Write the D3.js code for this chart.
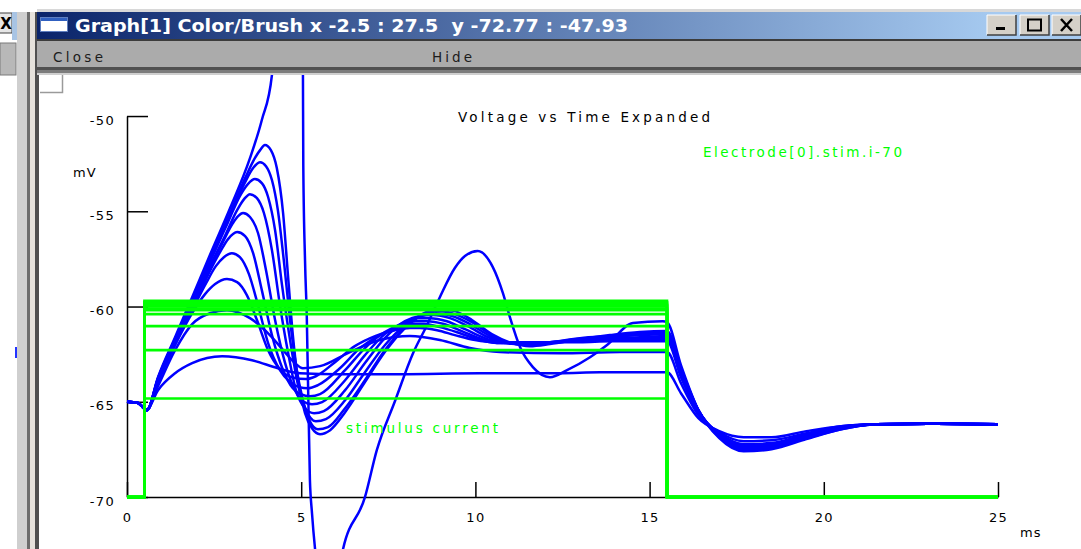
<!DOCTYPE html>
<html><head><meta charset="utf-8">
<script src="https://cdn.jsdelivr.net/npm/d3@7"></script>
<style>
html,body{margin:0;padding:0;background:#fff;overflow:hidden}
svg{display:block}
text{font-family:"DejaVu Sans",sans-serif}
</style></head><body>
<svg id="chart" width="1081" height="549"></svg>
<script>
// Membrane potential sweeps, [time (ms), voltage (mV)], one per stimulus amplitude.
const sweepSpike = [[0,-65],[0.3,-65.05],[0.57,-65.44],[0.89,-63.71],[1.38,-61.61],[1.87,-59.51],[2.38,-57.3],[2.96,-54.83],[3.53,-52.21],[3.87,-50.21],[4.16,-47.85],[4.4,-35],[4.6,0],[4.75,20],[4.9,-5],[5.03,-40],[5.05,-47.7],[5.06,-52.6],[5.11,-57.6],[5.16,-60.5],[5.25,-69.1],[5.31,-70.85],[5.4,-72.77],[5.7,-75.5],[6.0,-74.6],[6.2,-72.74],[6.83,-70.01],[7.17,-67.54],[7.69,-64.97],[8.21,-62.45],[8.61,-60.98],[8.98,-59.51],[9.41,-57.98],[9.7,-57.35],[10.07,-57.09],[10.5,-57.93],[10.79,-59.3],[10.99,-60.56],[11.28,-62.13],[11.65,-63.18],[12.14,-63.71],[12.63,-63.34],[13.29,-62.66],[13.77,-62.03],[14.52,-60.87],[15.38,-60.77],[15.5,-60.82],[15.9,-63.08],[16.4,-65.44],[17.0,-66.91],[17.7,-67.6],[18.5,-67.49],[19.5,-66.96],[20.5,-66.44],[21.5,-66.18],[23,-66.15],[25,-66.18]];
const sweep1 = [[0,-65],[0.3,-65.05],[0.57,-65.44],[0.89,-63.76],[1.38,-61.71],[1.87,-59.66],[2.38,-57.51],[2.96,-55.09],[3.39,-53.26],[3.67,-52.21],[3.82,-51.79],[3.96,-51.52],[4.13,-51.79],[4.3,-52.73],[4.48,-55.09],[4.62,-58.35],[4.76,-61.5],[4.91,-63.87],[5.11,-65.6],[5.31,-66.39],[5.54,-66.7],[5.83,-66.49],[6.26,-65.55],[6.83,-63.97],[7.4,-62.39],[7.98,-61.13],[8.47,-60.4],[8.98,-60.14],[9.41,-60.24],[9.9,-60.71],[10.47,-61.45],[11.05,-61.92],[11.56,-62.08],[12.14,-61.97],[13.0,-61.71],[13.86,-61.5],[14.72,-61.34],[15.5,-61.29],[15.9,-63.24],[16.4,-65.44],[17.0,-66.86],[17.7,-67.54],[18.5,-67.44],[19.5,-66.91],[20.5,-66.44],[21.5,-66.18],[23,-66.15],[25,-66.18]];
const sweep2 = [[0,-65],[0.3,-65.05],[0.57,-65.44],[0.89,-63.76],[1.38,-61.71],[1.87,-59.66],[2.38,-57.56],[2.96,-55.2],[3.39,-53.47],[3.62,-52.73],[3.82,-52.42],[3.99,-52.63],[4.16,-53.36],[4.33,-54.94],[4.5,-57.56],[4.68,-60.71],[4.85,-63.08],[5.05,-64.92],[5.25,-66.02],[5.48,-66.44],[5.77,-66.33],[6.26,-65.34],[6.83,-63.87],[7.4,-62.29],[7.98,-61.08],[8.47,-60.45],[8.92,-60.24],[9.41,-60.4],[9.9,-60.82],[10.47,-61.5],[10.99,-61.92],[11.51,-62.03],[12.14,-61.92],[13.0,-61.71],[13.86,-61.55],[14.72,-61.4],[15.5,-61.34],[15.9,-63.29],[16.4,-65.44],[17.0,-66.81],[17.7,-67.49],[18.5,-67.38],[19.5,-66.91],[20.5,-66.39],[21.5,-66.18],[23,-66.15],[25,-66.18]];
const sweep3 = [[0,-65],[0.3,-65.05],[0.57,-65.44],[0.89,-63.81],[1.38,-61.76],[1.87,-59.77],[2.38,-57.67],[2.9,-55.57],[3.24,-54.2],[3.47,-53.57],[3.67,-53.31],[3.87,-53.52],[4.05,-54.25],[4.25,-55.99],[4.45,-58.88],[4.68,-61.76],[4.91,-64.13],[5.14,-65.44],[5.42,-66.02],[5.71,-65.91],[6.26,-64.92],[6.83,-63.45],[7.4,-62.03],[7.98,-60.98],[8.41,-60.5],[8.87,-60.35],[9.33,-60.5],[9.84,-60.92],[10.42,-61.55],[10.93,-61.92],[11.42,-61.97],[12.14,-61.87],[13.0,-61.66],[13.86,-61.55],[14.72,-61.45],[15.5,-61.4],[15.9,-63.34],[16.4,-65.44],[17.0,-66.81],[17.7,-67.49],[18.5,-67.38],[19.5,-66.86],[20.5,-66.39],[21.5,-66.18],[23,-66.15],[25,-66.18]];
const sweep4 = [[0,-65],[0.3,-65.05],[0.57,-65.44],[0.89,-63.81],[1.38,-61.82],[1.87,-59.87],[2.38,-57.88],[2.81,-56.3],[3.16,-54.94],[3.36,-54.36],[3.53,-54.1],[3.73,-54.31],[3.93,-55.09],[4.16,-57.04],[4.39,-59.93],[4.62,-62.39],[4.85,-64.39],[5.11,-65.34],[5.37,-65.6],[5.65,-65.49],[6.26,-64.39],[6.83,-62.97],[7.4,-61.66],[7.98,-60.77],[8.41,-60.5],[8.78,-60.45],[9.27,-60.61],[9.78,-61.03],[10.36,-61.61],[10.85,-61.92],[11.33,-61.97],[12.14,-61.87],[13.0,-61.71],[13.86,-61.61],[14.72,-61.5],[15.5,-61.45],[15.9,-63.39],[16.4,-65.49],[17.0,-66.75],[17.7,-67.44],[18.5,-67.33],[19.5,-66.86],[20.5,-66.39],[21.5,-66.18],[23,-66.15],[25,-66.18]];
const sweep5 = [[0,-65],[0.3,-65.05],[0.57,-65.44],[0.89,-63.87],[1.38,-61.87],[1.87,-59.98],[2.38,-57.98],[2.75,-56.62],[3.04,-55.62],[3.19,-55.25],[3.33,-55.09],[3.53,-55.3],[3.76,-56.14],[3.99,-58.09],[4.25,-60.71],[4.53,-62.92],[4.82,-64.39],[5.05,-64.97],[5.31,-65.13],[5.6,-65.02],[6.26,-63.87],[6.83,-62.55],[7.4,-61.45],[7.98,-60.82],[8.35,-60.61],[8.69,-60.61],[9.18,-60.77],[9.7,-61.19],[10.27,-61.66],[10.79,-61.92],[11.28,-61.92],[12.14,-61.87],[13.0,-61.76],[13.86,-61.66],[14.72,-61.61],[15.5,-61.55],[15.9,-63.45],[16.4,-65.49],[17.0,-66.75],[17.7,-67.38],[18.5,-67.28],[19.5,-66.81],[20.5,-66.39],[21.5,-66.18],[23,-66.15],[25,-66.18]];
const sweep6 = [[0,-65],[0.3,-65.05],[0.57,-65.44],[0.89,-63.87],[1.38,-61.92],[1.87,-60.08],[2.32,-58.35],[2.67,-57.14],[2.9,-56.46],[3.16,-56.09],[3.39,-56.3],[3.62,-57.2],[3.87,-59.14],[4.16,-61.5],[4.48,-63.34],[4.76,-64.29],[4.99,-64.6],[5.25,-64.71],[5.54,-64.6],[6.26,-63.34],[6.83,-62.18],[7.4,-61.34],[7.98,-60.87],[8.29,-60.77],[8.61,-60.77],[9.1,-60.92],[9.61,-61.29],[10.19,-61.71],[10.7,-61.92],[11.19,-61.92],[12.14,-61.87],[13.0,-61.82],[13.86,-61.71],[14.72,-61.66],[15.5,-61.61],[15.9,-63.5],[16.4,-65.49],[17.0,-66.7],[17.7,-67.33],[18.5,-67.28],[19.5,-66.81],[20.5,-66.33],[21.5,-66.18],[23,-66.15],[25,-66.18]];
const sweep7 = [[0,-65],[0.3,-65.05],[0.57,-65.44],[0.89,-63.92],[1.38,-61.97],[1.87,-60.19],[2.27,-58.77],[2.55,-57.88],[2.78,-57.41],[3.01,-57.2],[3.24,-57.41],[3.5,-58.3],[3.76,-59.93],[4.05,-61.92],[4.39,-63.34],[4.68,-63.97],[4.94,-64.23],[5.19,-64.29],[5.48,-64.13],[6.11,-63.24],[6.69,-62.18],[7.26,-61.5],[7.83,-61.08],[8.21,-60.92],[8.52,-60.92],[8.98,-61.08],[9.56,-61.4],[10.13,-61.76],[10.62,-61.92],[11.1,-61.87],[12.14,-61.87],[13.0,-61.82],[13.86,-61.76],[14.72,-61.71],[15.5,-61.71],[15.9,-63.6],[16.4,-65.55],[17.0,-66.7],[17.7,-67.28],[18.5,-67.23],[19.5,-66.75],[20.5,-66.33],[21.5,-66.18],[23,-66.15],[25,-66.18]];
const sweep8 = [[0,-65],[0.3,-65.05],[0.57,-65.44],[0.89,-63.97],[1.38,-62.03],[1.87,-60.35],[2.24,-59.35],[2.53,-58.82],[2.87,-58.56],[3.16,-58.72],[3.44,-59.4],[3.73,-60.71],[4.05,-62.29],[4.39,-63.29],[4.73,-63.71],[5.14,-63.81],[5.42,-63.66],[5.97,-62.92],[6.54,-62.08],[7.12,-61.55],[7.69,-61.24],[8.12,-61.13],[8.41,-61.13],[8.9,-61.24],[9.41,-61.5],[9.99,-61.76],[10.5,-61.87],[10.99,-61.87],[12.14,-61.87],[13.0,-61.87],[13.86,-61.82],[14.72,-61.82],[15.5,-61.82],[15.9,-63.71],[16.4,-65.6],[17.0,-66.65],[17.7,-67.23],[18.5,-67.17],[19.5,-66.7],[20.5,-66.33],[21.5,-66.18],[23,-66.15],[25,-66.18]];
const sweep9 = [[0,-65],[0.3,-65.05],[0.57,-65.4],[0.89,-64.18],[1.38,-62.29],[1.87,-60.92],[2.38,-60.35],[2.87,-60.19],[3.53,-60.61],[4.1,-61.5],[4.53,-62.39],[4.82,-62.97],[5.05,-63.24],[5.54,-63.13],[6.4,-62.39],[7.26,-61.76],[8.12,-61.55],[8.98,-61.76],[9.84,-62.18],[10.7,-62.39],[12.42,-62.45],[14.15,-62.39],[15.5,-62.39],[15.9,-64.02],[16.4,-65.7],[17.0,-66.6],[17.7,-67.07],[18.5,-67.02],[19.5,-66.65],[20.5,-66.28],[21.5,-66.18],[23,-66.15],[25,-66.18]];
const sweep10 = [[0,-65],[0.3,-65.05],[0.57,-65.4],[0.89,-64.39],[1.38,-63.5],[1.87,-62.97],[2.73,-62.61],[3.59,-62.82],[4.33,-63.24],[4.96,-63.5],[6.11,-63.55],[7.83,-63.55],[10.13,-63.5],[12.42,-63.5],[13.57,-63.45],[15.5,-63.45],[15.9,-64.55],[16.4,-65.86],[17.0,-66.54],[17.7,-66.86],[18.5,-66.86],[19.5,-66.54],[20.5,-66.28],[21.5,-66.18],[23,-66.15],[25,-66.18]];
const sweeps = [sweepSpike, sweep1, sweep2, sweep3, sweep4, sweep5, sweep6, sweep7, sweep8, sweep9, sweep10];

// Step current amplitudes (nA); plotted as Electrode[0].stim.i - 70
const stimAmps = [10.3, 10.22, 10.14, 10.07, 10.0, 9.9, 9.81, 9.6, 8.97, 7.71, 5.17];
const stimOnset = 0.5, stimOffset = 15.5, tStart = 0, tStop = 25, stimOffsetMv = 70;

const xTicks = [0, 5, 10, 15, 20, 25];
const yTicks = [-50, -55, -60, -65, -70];
const xView = [-2.5, 27.5];
const yView = [-72.77, -47.93];
const windowTitle = "Graph[1] Color/Brush x -2.5 : 27.5  y -72.77 : -47.93";
const plotTitle = "Voltage vs Time Expanded";
const stimLabel = "Electrode[0].stim.i-70";

const svg = d3.select("#chart");
const W = 1081, H = 549;

// ---- window frame ----
const defs = svg.append("defs");
const grad = defs.append("linearGradient").attr("id", "titleGrad")
  .attr("x1", 0).attr("x2", 1).attr("y1", 0).attr("y2", 0);
grad.append("stop").attr("offset", "0%").attr("stop-color", "#0a246a");
grad.append("stop").attr("offset", "92%").attr("stop-color", "#a6caf0");
grad.append("stop").attr("offset", "100%").attr("stop-color", "#a6caf0");

svg.append("rect").attr("x", 0).attr("y", 0).attr("width", W).attr("height", H).attr("fill", "#fff");

// neighbouring window edge on the left
svg.append("rect").attr("x", -4).attr("y", 13).attr("width", 16).attr("height", 20).attr("fill", "#e6e6e6").attr("stroke", "#404040").attr("stroke-width", 1);
svg.append("text").attr("x", 6).attr("y", 29).attr("text-anchor", "middle").attr("font-size", 15).attr("font-weight", "bold").attr("fill", "#000").text("X");
svg.append("rect").attr("x", 0).attr("y", 43).attr("width", 16).attr("height", 32).attr("fill", "#b8b8b8").attr("stroke", "#7a7a7a");
svg.append("rect").attr("x", 12).attr("y", 12).attr("width", 5).attr("height", 28).attr("fill", "#a8c4e4");
svg.append("rect").attr("x", 17).attr("y", 12).attr("width", 10).attr("height", H).attr("fill", "#cfcfcf");
svg.append("rect").attr("x", 27).attr("y", 12).attr("width", 3).attr("height", H).attr("fill", "#6c6c6c");
svg.append("rect").attr("x", 30).attr("y", 12).attr("width", 5).attr("height", H).attr("fill", "#e6e2dc");
svg.append("rect").attr("x", 35).attr("y", 12).attr("width", 4).attr("height", H).attr("fill", "#505050");
svg.append("line").attr("x1", 16).attr("x2", 16).attr("y1", 347).attr("y2", 358).attr("stroke", "#2233ff").attr("stroke-width", 2);

// title bar
svg.append("rect").attr("x", 37).attr("y", 9).attr("width", W - 37).attr("height", 3).attr("fill", "#d8d8d8");
svg.append("rect").attr("x", 37).attr("y", 12).attr("width", W - 37).attr("height", 27).attr("fill", "url(#titleGrad)");
svg.append("rect").attr("x", 40.5).attr("y", 17.5).attr("width", 27).attr("height", 14).attr("fill", "#fff").attr("stroke", "#5f7fc0");
svg.append("rect").attr("x", 41).attr("y", 18).attr("width", 26).attr("height", 3).attr("fill", "#3060c0");
svg.append("text").attr("x", 75).attr("y", 32).attr("font-size", 17).attr("font-weight", "bold")
  .attr("fill", "#fff").style("white-space", "pre").attr("textLength", 553).attr("lengthAdjust", "spacingAndGlyphs").text(windowTitle);

// caption buttons
const btns = [{x: 987, g: "min"}, {x: 1020, g: "max"}, {x: 1052, g: "close"}];
btns.forEach(b => {
  svg.append("rect").attr("x", b.x).attr("y", 15).attr("width", 29).attr("height", 20).attr("fill", "#d4d0c8");
  svg.append("path").attr("d", `M${b.x},35 V15 H${b.x + 29}`).attr("fill", "none").attr("stroke", "#fff").attr("stroke-width", 1);
  svg.append("path").attr("d", `M${b.x},35 H${b.x + 29} V15`).attr("fill", "none").attr("stroke", "#404040").attr("stroke-width", 1.5);
  if (b.g === "min") svg.append("rect").attr("x", b.x + 9).attr("y", 27).attr("width", 9).attr("height", 3).attr("fill", "#000");
  if (b.g === "max") svg.append("rect").attr("x", b.x + 8).attr("y", 19.5).attr("width", 13).attr("height", 11).attr("fill", "none").attr("stroke", "#000").attr("stroke-width", 2);
  if (b.g === "close") svg.append("path").attr("d", `M${b.x + 9},19 L${b.x + 20},31 M${b.x + 20},19 L${b.x + 9},31`).attr("stroke", "#000").attr("stroke-width", 2.5);
});

// menu bar
svg.append("rect").attr("x", 37).attr("y", 39).attr("width", W - 37).attr("height", 2).attr("fill", "#3c3c3c");
svg.append("rect").attr("x", 37).attr("y", 41).attr("width", W - 37).attr("height", 27).attr("fill", "#ababab");
svg.append("rect").attr("x", 37).attr("y", 67).attr("width", W - 37).attr("height", 3).attr("fill", "#505050");
svg.append("rect").attr("x", 37).attr("y", 70).attr("width", W - 37).attr("height", 3).attr("fill", "#7c7c7c");
svg.append("rect").attr("x", 37).attr("y", 73).attr("width", W - 37).attr("height", 2).attr("fill", "#cfcfcf");
svg.append("text").attr("x", 53).attr("y", 62).attr("font-size", 13.5).attr("fill", "#1c1c1c").attr("textLength", 50).text("Close");
svg.append("text").attr("x", 432).attr("y", 62).attr("font-size", 13.5).attr("fill", "#1c1c1c").attr("textLength", 40).text("Hide");

// small toggle box in the corner of the canvas
svg.append("rect").attr("x", 40).attr("y", 75).attr("width", 23).attr("height", 18).attr("fill", "#fff");
svg.append("path").attr("d", "M40,92.5 H62.5 V75").attr("fill", "none").attr("stroke", "#9a9a9a").attr("stroke-width", 1.5);

// ---- plot ----
const x = d3.scaleLinear().domain(xView).range([39.9, 1085.1]);
const y = d3.scaleLinear().domain(yView).range([549.8, 76.6]);

defs.append("clipPath").attr("id", "view").append("rect")
  .attr("x", 40).attr("y", 75).attr("width", W - 40).attr("height", H - 75);

// axes span only the labelled range
const xAxisScale = x.copy().domain([tStart, tStop]).range([x(tStart), x(tStop)]);
const yAxisScale = y.copy().domain([d3.min(yTicks), d3.max(yTicks)]).range([y(d3.min(yTicks)), y(d3.max(yTicks))]);

const plainNumber = d => String(d);
const axisFont = g => g.selectAll("text")
  .attr("font-family", "DejaVu Sans, sans-serif").attr("font-size", 13).attr("fill", "#000")
  .style("letter-spacing", "1.3px");

const gx = svg.append("g").attr("transform", `translate(0,${y(-70)})`)
  .call(d3.axisBottom(xAxisScale).tickValues(xTicks).tickFormat(plainNumber)
    .tickSizeInner(-15).tickSizeOuter(0).tickPadding(16))
  .call(axisFont);
gx.select(".domain").attr("stroke", "#000").attr("stroke-width", 1.5);
gx.selectAll(".tick line").attr("stroke", "#000").attr("stroke-width", 1.5);

const gy = svg.append("g").attr("transform", `translate(${x(0)},0)`)
  .call(d3.axisLeft(yAxisScale).tickValues(yTicks).tickFormat(plainNumber)
    .tickSizeInner(-21).tickSizeOuter(0).tickPadding(12))
  .call(axisFont);
gy.select(".domain").attr("stroke", "#000").attr("stroke-width", 1.5);
gy.selectAll(".tick line").attr("stroke", "#000").attr("stroke-width", 1.5);
gy.selectAll(".tick text").attr("dy", "0.62em");

svg.append("text").attr("x", 73).attr("y", 177).attr("font-size", 13).style("letter-spacing", "1px").text("mV");
svg.append("text").attr("x", 1020).attr("y", 537).attr("font-size", 13).style("letter-spacing", "1px").text("ms");

const plot = svg.append("g").attr("clip-path", "url(#view)");

const line = d3.line().x(d => x(d[0])).y(d => y(d[1])).curve(d3.curveMonotoneX);

plot.selectAll("path.sweep").data(sweeps).join("path")
  .attr("class", "sweep")
  .attr("d", line)
  .attr("fill", "none").attr("stroke", "#0000ff").attr("stroke-width", 2.5)
  .attr("stroke-linejoin", "round");

// stimulus current traces, shifted down by 70 to share the voltage axis
const stimPath = amp => [[tStart, -stimOffsetMv], [stimOnset, -stimOffsetMv], [stimOnset, amp - stimOffsetMv],
  [stimOffset, amp - stimOffsetMv], [stimOffset, -stimOffsetMv], [tStop, -stimOffsetMv]];
const stepLine = d3.line().x(d => x(d[0])).y(d => y(d[1]));
plot.selectAll("path.stim").data(stimAmps).join("path")
  .attr("class", "stim")
  .attr("d", a => stepLine(stimPath(a)))
  .attr("fill", "none").attr("stroke", "#00ff00").attr("stroke-width", 2.6);

// labels
svg.append("text").attr("x", 458).attr("y", 122).attr("font-size", 13.5).attr("fill", "#000")
  .attr("textLength", 252).attr("lengthAdjust", "spacing").text(plotTitle);
svg.append("text").attr("x", 703).attr("y", 157).attr("font-size", 13.5).attr("fill", "#00ff00")
  .attr("textLength", 199).attr("lengthAdjust", "spacing").text(stimLabel);
svg.append("text").attr("x", 346).attr("y", 433).attr("font-size", 13.5).attr("fill", "#00ff00")
  .attr("textLength", 152).attr("lengthAdjust", "spacing").text("stimulus current");
</script>
</body></html>
